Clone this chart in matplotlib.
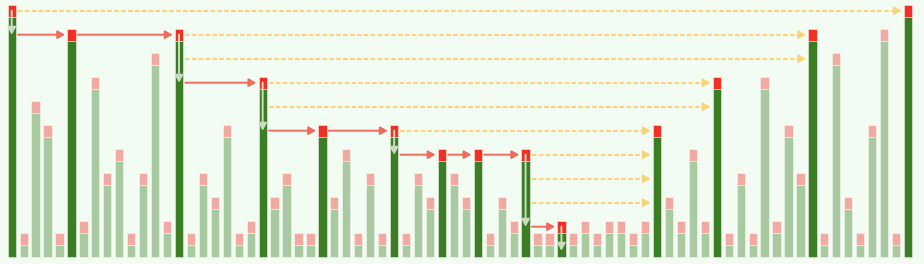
import matplotlib
matplotlib.use("Agg")
import matplotlib.pyplot as plt
from matplotlib.patches import FancyArrowPatch

# bar heights (cap included), left to right
values = [21, 2, 13, 11, 2, 19, 3, 15, 7, 9, 2, 7, 17, 3, 19, 2, 7, 5, 11, 2,
          3, 15, 5, 7, 2, 2, 11, 5, 9, 2, 7, 2, 11, 2, 7, 5, 9, 7, 5, 9,
          2, 5, 3, 9, 2, 2, 3, 2, 3, 2, 3, 3, 2, 3, 11, 5, 3, 9, 3, 15,
          2, 7, 2, 15, 3, 11, 7, 19, 2, 17, 5, 2, 11, 19, 2, 21]
highlighted = [0, 5, 14, 21, 26, 32, 36, 39, 43, 46, 54, 59, 67, 75]

# solid red jumps: (from bar, to bar) at the level of the target cap
red_jumps = [(0, 5), (5, 14), (14, 21), (21, 26), (26, 32), (32, 36), (36, 39), (39, 43), (43, 46)]
# gray drops inside bars: (bar, from level, to level)
drops = [(0, 21, 19), (14, 19, 15), (21, 15, 11), (32, 11, 9), (43, 9, 3), (46, 3, 1)]
# dashed links: (from bar, to bar, level)
links = [(0, 75, 21), (14, 67, 19), (14, 67, 17), (21, 59, 15), (21, 59, 13),
         (32, 54, 11), (43, 54, 9), (43, 54, 7), (43, 54, 5)]

BG = "#f3fcf3"
DARK = "#3a7d22"
RED = "#ee3124"
LIGHT = "#a9caa1"
PINK = "#f0aaa2"
ARROW_RED = "#ee6b5f"
DASH = "#f8d47c"
GRAY = "#c9dcc2"

fig = plt.figure(figsize=(9.24, 2.64), dpi=100)
fig.patch.set_facecolor(BG)
ax = fig.add_axes([0, 0, 1, 1])
ax.set_xlim(-0.98, 76.34)
ax.set_ylim(-0.61, 21.39)
ax.axis("off")

idx = list(range(len(values)))
hl = set(highlighted)
body = [v - 1 for v in values]
body_col = [DARK if i in hl else LIGHT for i in idx]
cap_col = [RED if i in hl else PINK for i in idx]
ax.bar(idx, body, width=0.69, color=body_col, edgecolor=(1, 1, 1, 0.45), linewidth=0.7, zorder=2)
ax.bar(idx, [1] * len(idx), bottom=body, width=0.69, color=cap_col,
       edgecolor=(1, 1, 1, 0.45), linewidth=0.7, zorder=2)

off = 0.53  # gap between bar centre and arrow ends
hlen = 0.5  # head length in x units


def head(x0, y0, x1, y1, color, z):
    a = FancyArrowPatch((x0, y0), (x1, y1), arrowstyle="-|>,head_length=4.3,head_width=2.4",
                        mutation_scale=1, color=color, lw=1.4, shrinkA=0, shrinkB=0, zorder=z)
    ax.add_patch(a)


for a, b in red_jumps:
    y = values[b] - 0.5
    head(a + off, y, b - off, y, ARROW_RED, 3)

for bar, lv0, lv1 in drops:
    head(bar, lv0 - 0.5, bar, lv1 - 0.5, GRAY, 4)

for a, b, lv in links:
    y = lv - 0.5
    ax.plot([a + off, b - off - hlen], [y, y], color=DASH, lw=1.5,
            linestyle=(0, (2.2, 1.1)), solid_capstyle="butt", zorder=1)
    head(b - off - hlen, y, b - off, y, DASH, 1)

fig.savefig("out.png", dpi=100, facecolor=BG)
